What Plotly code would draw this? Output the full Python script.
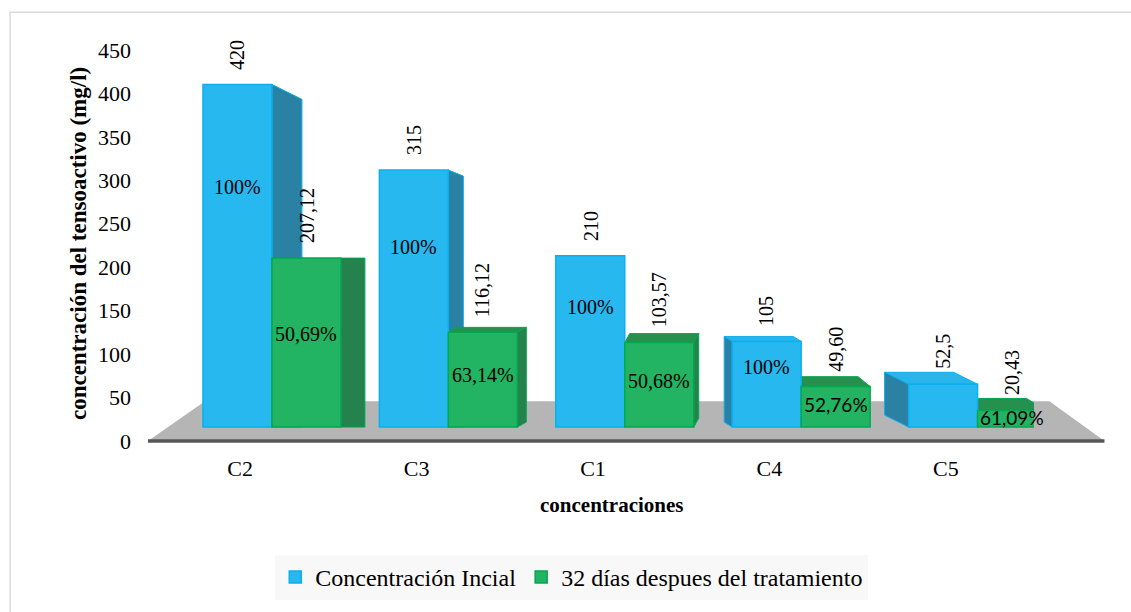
import plotly.graph_objects as go

# ---------------- data ----------------
categories = ["C2", "C3", "C1", "C4", "C5"]
inicial = [420, 315, 210, 105, 52.5]
despues = [207.12, 116.12, 103.57, 49.60, 20.43]
inicial_labels = ["420", "315", "210", "105", "52,5"]
despues_labels = ["207,12", "116,12", "103,57", "49,60", "20,43"]
inicial_pct = ["100%", "100%", "100%", "100%", ""]
despues_pct = ["50,69%", "63,14%", "50,68%", "52,76%", "61,09%"]
y_ticks = [0, 50, 100, 150, 200, 250, 300, 350, 400, 450]
series_names = ["Concentración Incial", "32 días despues del tratamiento"]
y_title = "concentración del tensoactivo (mg/l)"
x_title = "concentraciones"

# ---------------- style / geometry ----------------
W, H = 1131, 612
PL, PR, PT, PB = 152.0, 1034.5, 50.0, 443.0      # plot area in px
X2_PX = 176.5                                      # px per category on the bar axis
X2_R0 = -0.68
Y2_PX = 0.82                                       # px per mg/l on the bar axis
Y2_BASE_PX = 429.0
Y2_R0 = -(PB - Y2_BASE_PX) / Y2_PX
Y2_R1 = Y2_R0 + (PB - PT) / Y2_PX
BW = 69.0 / X2_PX

SERIF = "Liberation Serif"
SANS = "Lato"
BLUE, BLUE_LINE, BLUE_SIDE, BLUE_TOP = "#27B8F0", "#0AAFEF", "#2A81A3", "#29B4EA"
GREEN, GREEN_LINE, GREEN_SIDE, GREEN_TOP = "#22B462", "#00A84E", "#25824C", "#26914F"

# pseudo-3D depth offsets (px): ox>0 right, oy>0 up
blue_ox = [30, 15, 0, -8, -24]
blue_oy = [-15, -6, 0, 5, 12]
green_ox = [24, 9, 5, -12, -20]
green_oy = [0, 5, 9, 10, 12]
pct_sans = [False, False, False, True, True]


def px2paper_x(p):
    return (p - PL) / (PR - PL)


def px2paper_y(p):
    return (PB - p) / (PB - PT)


idx = list(range(len(categories)))

fig = go.Figure()

shapes = []
# outer chart border
shapes.append(dict(type="rect", xref="paper", yref="paper",
                   x0=px2paper_x(10), x1=px2paper_x(1140), y0=px2paper_y(625), y1=px2paper_y(12),
                   line=dict(color="#D9D9D9", width=1.5), fillcolor="rgba(0,0,0,0)", layer="below"))
# floor
fl = [(148, 443), (205, 403), (1050, 403), (1105, 443)]
path = "M " + " L ".join(f"{px2paper_x(a):.5f},{px2paper_y(b):.5f}" for a, b in fl) + " Z"
shapes.append(dict(type="path", xref="paper", yref="paper", path=path,
                   fillcolor="#B5B5B5", line=dict(width=0), layer="below"))
shapes.append(dict(type="line", xref="paper", yref="paper",
                   x0=px2paper_x(148), x1=px2paper_x(1105), y0=px2paper_y(443), y1=px2paper_y(443),
                   line=dict(color="#575757", width=3.5), layer="below"))


def add_faces(vals, offs, ox_list, oy_list, side_col, top_col, line_col):
    for k, v in enumerate(vals):
        xa = k + offs
        xb = xa + BW
        ox = ox_list[k] / X2_PX
        oy = oy_list[k] / Y2_PX
        faces = []
        if oy_list[k] > 0:
            faces.append(([(xa, v), (xb, v), (xb + ox, v + oy), (xa + ox, v + oy)], top_col))
        if ox_list[k] > 0:
            bot = oy if oy_list[k] > 0 else 0
            faces.append(([(xb, v), (xb + ox, v + oy), (xb + ox, bot), (xb, 0)], side_col))
        elif ox_list[k] < 0:
            bot = oy if oy_list[k] > 0 else 0
            faces.append(([(xa, v), (xa + ox, v + oy), (xa + ox, bot), (xa, 0)], side_col))
        for pts, col in faces:
            p = "M " + " L ".join(f"{a:.5f},{b:.4f}" for a, b in pts) + " Z"
            shapes.append(dict(type="path", xref="x2", yref="y2", path=p,
                               fillcolor=col, line=dict(color=line_col, width=1), layer="below"))


add_faces(inicial, -BW, blue_ox, blue_oy, BLUE_SIDE, BLUE_TOP, BLUE_LINE)
add_faces(despues, 0.0, green_ox, green_oy, GREEN_SIDE, GREEN_TOP, GREEN_LINE)

# invisible helper trace so the labelled category / value axes are drawn
fig.add_trace(go.Scatter(x=idx, y=[None] * len(idx), mode="none", showlegend=False,
                         hoverinfo="skip"))

fig.add_trace(go.Bar(x=idx, y=inicial, name=series_names[0], xaxis="x2", yaxis="y2",
                     width=BW, offset=-BW,
                     marker=dict(color=BLUE, line=dict(color=BLUE_LINE, width=1.5)),
                     hoverinfo="skip"))
fig.add_trace(go.Bar(x=idx, y=despues, name=series_names[1], xaxis="x2", yaxis="y2",
                     width=BW, offset=0.0,
                     marker=dict(color=GREEN, line=dict(color=GREEN_LINE, width=1.5)),
                     hoverinfo="skip"))

annotations = []
for k in idx:
    cb = k - BW / 2
    cg = k + BW / 2
    annotations.append(dict(x=cb, y=inicial[k], xref="x2", yref="y2", text=inicial_labels[k],
                            textangle=-90, showarrow=False, yanchor="bottom", xanchor="center",
                            yshift=13, font=dict(family=SERIF, size=20, color="black")))
    annotations.append(dict(x=cg, y=despues[k], xref="x2", yref="y2", text=despues_labels[k],
                            textangle=-90, showarrow=False, yanchor="bottom", xanchor="center",
                            yshift=13, font=dict(family=SERIF, size=20, color="black")))
    if inicial_pct[k]:
        annotations.append(dict(x=cb, y=inicial[k] * 0.7, xref="x2", yref="y2", text=inicial_pct[k],
                                showarrow=False, xanchor="center", yanchor="middle",
                                font=dict(family=SERIF, size=20, color="black")))
    annotations.append(dict(x=cg, y=despues[k] * 0.55, xref="x2", yref="y2", text=despues_pct[k],
                            showarrow=False, xanchor="center", yanchor="middle",
                            font=dict(family=SANS if pct_sans[k] else SERIF,
                                      size=19 if pct_sans[k] else 20, color="black")))

annotations.append(dict(x=px2paper_x(78), y=px2paper_y(245), xref="paper", yref="paper",
                        xanchor="center", yanchor="middle",
                        text=f"<b>{y_title}</b>", textangle=-90, showarrow=False,
                        font=dict(family=SERIF, size=23, color="black")))
annotations.append(dict(x=px2paper_x(612), y=px2paper_y(507), xref="paper", yref="paper",
                        xanchor="center", yanchor="middle",
                        text=f"<b>{x_title}</b>", showarrow=False,
                        font=dict(family=SERIF, size=21, color="black")))

fig.update_layout(
    width=W, height=H, autosize=False,
    margin=dict(l=PL, r=W - PR, t=PT, b=H - PB, pad=0),
    paper_bgcolor="white", plot_bgcolor="rgba(0,0,0,0)",
    barmode="overlay",
    showlegend=True,
    legend=dict(orientation="h", x=px2paper_x(572), y=px2paper_y(580),
                xanchor="center", yanchor="middle", bgcolor="#F8F8F8",
                font=dict(family=SERIF, size=24, color="black"),
                traceorder="normal"),
    xaxis=dict(range=[-0.5, len(categories) - 0.5], tickvals=idx, ticktext=categories,
               showgrid=False, zeroline=False, showline=False, ticks="",
               ticklabelstandoff=12, tickfont=dict(family=SERIF, size=22, color="black"),
               fixedrange=True),
    xaxis2=dict(overlaying="x", range=[X2_R0, X2_R0 + (PR - PL) / X2_PX], visible=False,
                fixedrange=True),
    yaxis=dict(range=[0, 450], tickvals=y_ticks, showgrid=False, zeroline=False,
               showline=False, ticks="", ticklabelstandoff=20,
               tickfont=dict(family=SERIF, size=22, color="black"), fixedrange=True),
    yaxis2=dict(overlaying="y", range=[Y2_R0, Y2_R1], visible=False, fixedrange=True),
    shapes=shapes,
    annotations=annotations,
)

fig.write_html("out.html", post_script="document.body.style.margin='0px';",
               config={"displayModeBar": False})
